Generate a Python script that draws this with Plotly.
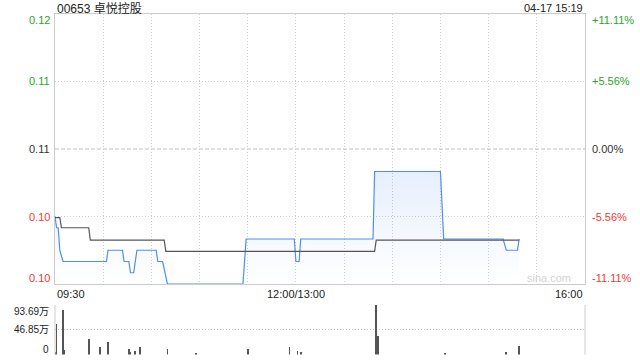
import plotly.graph_objects as go

# ---------------- data ----------------
title_text = "00653 卓悦控股"
time_text = "04-17 15:19"

# minute index from 09:30 (0) to 16:00 (330), lunch break removed
price_minutes = [0, 1, 2, 3, 5, 32, 33, 42, 43, 46, 47, 49, 51, 63, 64, 67, 70,
                 117, 119, 149, 150, 152, 153, 198, 199, 240, 242, 279, 281, 288, 289]
price_values = [0.102, 0.101, 0.101, 0.099, 0.098, 0.098, 0.099, 0.099, 0.098, 0.098,
                0.097, 0.097, 0.099, 0.099, 0.098, 0.098, 0.096, 0.096, 0.100, 0.100,
                0.098, 0.098, 0.100, 0.100, 0.106, 0.106, 0.100, 0.100, 0.099, 0.099, 0.100]

avg_minutes = [0, 3, 4, 21, 22, 68, 69, 199, 200, 289]
avg_values = [0.1019, 0.1019, 0.1010, 0.1010, 0.0999, 0.0999, 0.0989, 0.0989, 0.0999, 0.0999]

vol_minutes = [0, 1, 5, 6, 21, 28, 33, 46, 47, 50, 53, 70, 88, 120, 146, 151, 153,
               200, 201, 243, 281, 289]
vol_values = [5, 57, 84, 8, 29, 14, 23, 9.5, 5, 7, 14, 11, 2, 10, 14, 7, 4,
              93.69, 35, 2, 4, 16]  # 万

prev_close = 0.108
price_ticks = [0.096, 0.102, 0.108, 0.114, 0.12]
price_tick_text = ["0.10", "0.10", "0.11", "0.11", "0.12"]
pct_tick_text = ["-11.11%", "-5.56%", "0.00%", "+5.56%", "+11.11%"]
tick_colors = ["#f03a32", "#f03a32", "#333333", "#2aa52a", "#2aa52a"]

vol_ticks = [0, 46.85, 93.69]
vol_tick_text = ["0", "46.85万", "93.69万"]

time_ticks = [0, 150, 330]
time_tick_text = ["09:30", "12:00/13:00", "16:00"]

# ---------------- layout geometry ----------------
W, H = 640, 360
x0, x1 = 55 / W, 585 / W
main_dom = [1 - 284 / H, 1 - 14 / H]
vol_dom = [1 - 354.5 / H, 1 - 305 / H]
FONT = "Arial, Liberation Sans, Noto Sans CJK SC, sans-serif"
GRID = "#cfcfcf"
DOT = "1px,2px"

fig = go.Figure()

# baseline for gradient fill
fig.add_trace(go.Scatter(x=price_minutes, y=[price_ticks[0]] * len(price_minutes),
                         mode="lines", line=dict(width=0), hoverinfo="skip",
                         showlegend=False, xaxis="x", yaxis="y"))
fig.add_trace(go.Scatter(x=price_minutes, y=price_values, mode="lines",
                         line=dict(color="#4f8ef0", width=1.2),
                         fill="tonexty",
                         fillgradient=dict(type="vertical",
                                           colorscale=[[0, "rgba(80,140,240,0.0)"],
                                                       [1, "rgba(80,140,240,0.14)"]]),
                         showlegend=False, xaxis="x", yaxis="y"))
fig.add_trace(go.Scatter(x=avg_minutes, y=avg_values, mode="lines",
                         line=dict(color="#555555", width=1.2),
                         showlegend=False, xaxis="x", yaxis="y"))

fig.add_trace(go.Bar(x=vol_minutes, y=vol_values, width=0.45,
                     marker=dict(color="#555555", line=dict(width=0)),
                     showlegend=False, xaxis="x2", yaxis="y2"))

fig.update_layout(
    width=W, height=H,
    margin=dict(l=0, r=0, t=0, b=0),
    paper_bgcolor="white", plot_bgcolor="white",
    font=dict(family=FONT, size=11, color="#333"),
    bargap=0,
    xaxis=dict(domain=[x0, x1], range=[0, 330], tickvals=list(range(30, 330, 30)),
               showticklabels=False, showgrid=True, gridcolor=GRID, griddash=DOT,
               gridwidth=1, showline=True, linecolor="#cccccc", linewidth=1, mirror=True,
               zeroline=False, ticks=""),
    yaxis=dict(domain=main_dom, range=[price_ticks[0], price_ticks[-1]],
               tickvals=[v for v in price_ticks[1:-1] if v != prev_close],
               showticklabels=False, showgrid=True,
               gridcolor=GRID, griddash=DOT, showline=True, linecolor="#cccccc",
               linewidth=1, mirror=True, zeroline=False, ticks=""),
    xaxis2=dict(domain=[x0, x1], range=[0, 330], anchor="y2", showticklabels=False,
                showgrid=False, showline=False, zeroline=False, ticks=""),
    yaxis2=dict(domain=vol_dom, range=[0, 93.69], anchor="x2", tickvals=vol_ticks,
                showticklabels=False, showgrid=True, gridcolor="#c4c4c4", griddash=DOT,
                showline=False, zeroline=False, ticks=""),
    shapes=[
        dict(type="line", xref="x", yref="y", x0=0, x1=330, y0=prev_close, y1=prev_close,
             line=dict(color="#c0c0c0", width=1, dash="4px,2px"), layer="below"),
        dict(type="line", xref="paper", yref="paper", x0=x0, x1=x0,
             y0=vol_dom[0], y1=vol_dom[1], line=dict(color="#cccccc", width=1)),
        dict(type="line", xref="paper", yref="paper", x0=x1, x1=x1,
             y0=vol_dom[0], y1=vol_dom[1], line=dict(color="#cccccc", width=1)),
    ],
)

ann = []
ann.append(dict(x=x0, y=1 - 9 / H, xref="paper", yref="paper", text=title_text,
                showarrow=False, xanchor="left", yanchor="middle",
                font=dict(size=12, color="#222")))
ann.append(dict(x=x1, y=1 - 8 / H, xref="paper", yref="paper", text=time_text,
                showarrow=False, xanchor="right", yanchor="middle",
                font=dict(size=11, color="#222")))
edge_shift = [6, 0, 0, 0, -6]
for v, t, p, c, s in zip(price_ticks, price_tick_text, pct_tick_text, tick_colors, edge_shift):
    ann.append(dict(x=52 / W, y=v, xref="paper", yref="y", text=t, showarrow=False,
                    xanchor="right", yanchor="middle", yshift=s, font=dict(size=11, color=c)))
    ann.append(dict(x=590 / W, y=v, xref="paper", yref="y", text=p, showarrow=False,
                    xanchor="left", yanchor="middle", yshift=s, font=dict(size=11, color=c)))
vol_shift = [5.5, 0, -6.5]
for v, t, s in zip(vol_ticks, vol_tick_text, vol_shift):
    ann.append(dict(x=51 / W, y=v, xref="paper", yref="y2", text=t, showarrow=False,
                    xanchor="right", yanchor="middle", yshift=s,
                    font=dict(size=10, color="#222")))
anchors = ["left", "center", "right"]
for v, t, a in zip(time_ticks, time_tick_text, anchors):
    ann.append(dict(x=v, y=1 - 294 / H, xref="x", yref="paper", text=t, showarrow=False,
                    xanchor=a, yanchor="middle", font=dict(size=11, color="#222")))
ann.append(dict(x=573 / W, y=1 - 278 / H, xref="paper", yref="paper", text="sina.com",
                showarrow=False, xanchor="right", yanchor="middle",
                font=dict(size=11, color="#d4d4d4")))
fig.update_layout(annotations=ann)

fig.write_html("out.html")
